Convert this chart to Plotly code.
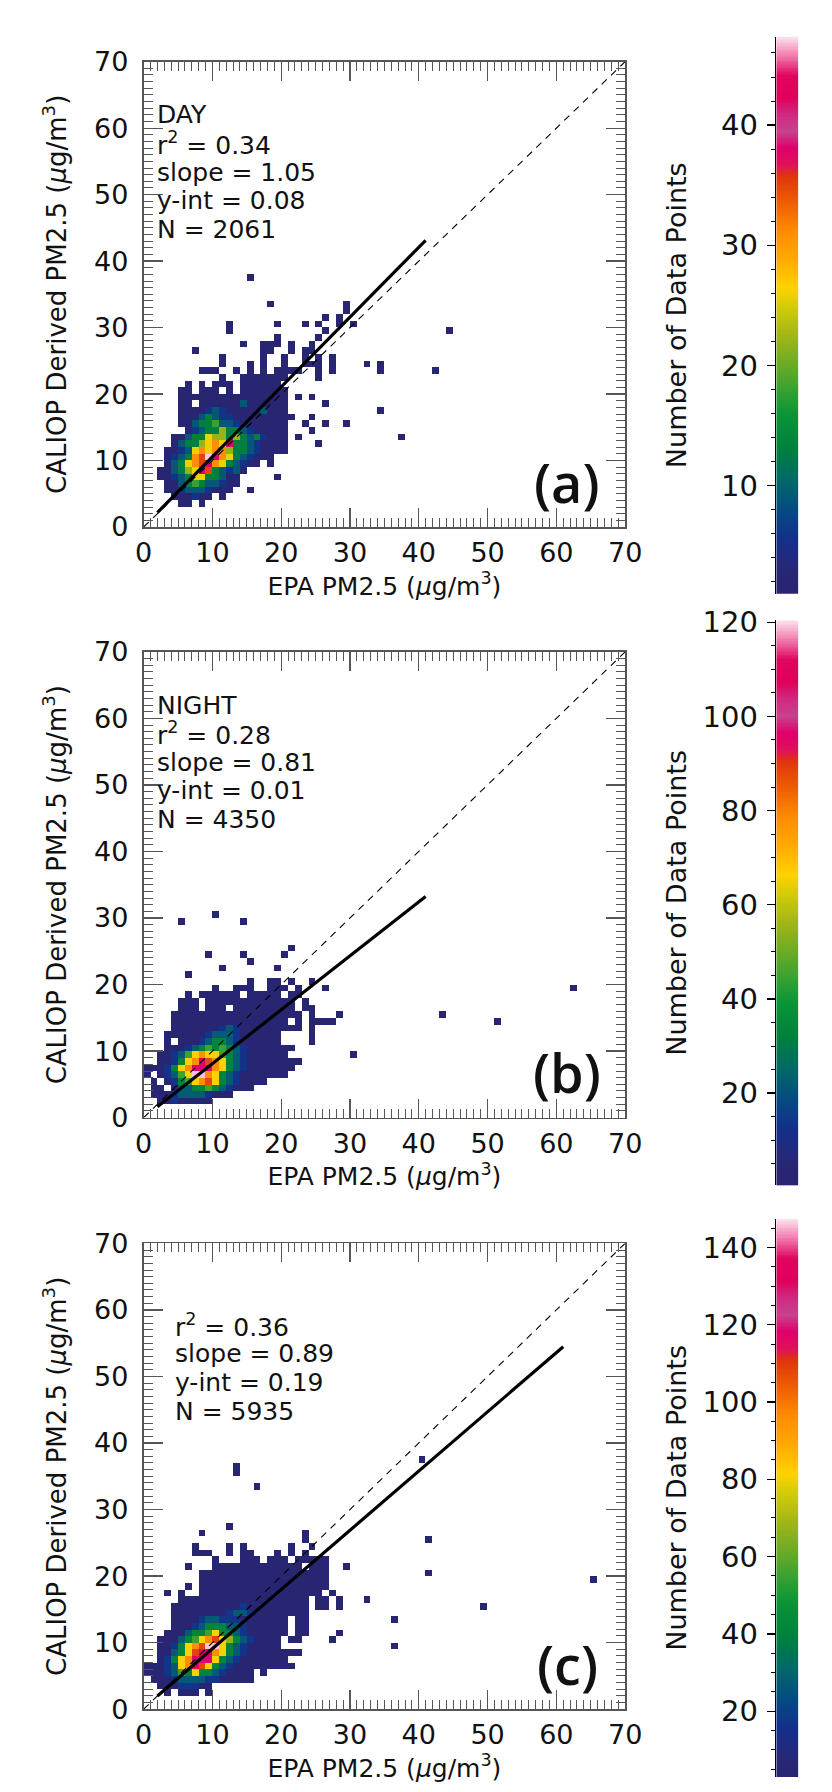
import plotly.graph_objects as go

# ---------------- data ----------------
SEASON = ["DAY", "NIGHT", ""]
PANEL_TAG = ["(a)", "(b)", "(c)"]
R2 = ["0.34", "0.28", "0.36"]
SLOPE = [1.05, 0.81, 0.89]
INTERCEPT = [0.08, 0.01, 0.19]
N_POINTS = [2061, 4350, 5935]
FIT_X = [(2, 41), (2, 41), (2, 61)]

CBAR_RANGE = [(1.0, 47.36), (0.4, 120.4), (1.0, 147.4)]
CBAR_VIEW = [(1.0, 47.36), (0.4, 120.4), (2.97, 147.4)]
CBAR_TICKS = [[10, 20, 30, 40], [20, 40, 60, 80, 100, 120], [20, 40, 60, 80, 100, 120, 140]]
CBAR_MINOR = [2, 5, 5]

# counts represented by each colour level in the 2-D histograms
COUNTS_A = {'1': 2, '2': 6, '3': 9, '4': 13, '5': 18, '6': 22, '7': 26, '8': 31, '9': 35, 'm': 38, 'w': 47}
COUNTS_B = {'1': 3, '2': 13, '3': 22, '4': 33, '5': 45, '6': 54, '7': 66, '8': 78, '9': 88, 'm': 96, 'w': 119}
COUNTS_C = {'1': 4, '2': 17, '3': 27, '4': 41, '5': 55, '6': 67, '7': 81, '8': 96, '9': 108, 'm': 118, 'w': 146}

# dense histogram rows: (y bin, first x bin, levels)  '.' = empty bin
ROWS_A = [
    (22, 11, "1..1111111"),
    (21, 6, "1.1.111.111111"),
    (20, 5, "11.111.1.1111111"),
    (19, 5, "1111111111111111.1.1"),
    (18, 5, "11.1111113111111.....1"),
    (17, 5, "1111232111113111"),
    (16, 5, "11134322111111111"),
    (15, 5, "1134453321111111"),
    (14, 6, "123446443211111"),
    (13, 4, "11344766464342111"),
    (12, 4, "13446787m44321111"),
    (11, 3, "112378788644321111"),
    (10, 3, "123489wm87432111"),
    (9, 3, "134789m8743211.1"),
    (8, 2, "113467m943231"),
    (7, 2, "112347744311"),
    (6, 3, "11345433211"),
    (5, 3, "1123332111"),
    (4, 4, "111211.1"),
    (3, 5, "11.1"),
]
SPARSE_A = [(15, 37), (18, 33), (29, 33), (29, 32), (26, 31), (28, 31), (12, 30), (19, 30), (23, 30),
            (25, 30), (28, 30), (30, 30), (12, 29), (26, 29), (44, 29), (19, 28), (25, 28), (14, 27),
            (17, 27), (18, 27), (19, 27), (21, 27), (24, 27), (7, 26), (17, 26), (18, 26), (21, 26),
            (23, 26), (24, 26), (11, 25), (17, 25), (20, 25), (23, 25), (25, 25), (27, 25), (11, 24),
            (15, 24), (17, 24), (20, 24), (23, 24), (24, 24), (25, 24), (27, 24), (32, 24), (34, 24),
            (8, 23), (9, 23), (10, 23), (13, 23), (15, 23), (17, 23), (19, 23), (20, 23), (21, 23),
            (22, 23), (25, 23), (27, 23), (34, 23), (42, 23), (25, 22), (34, 17), (24, 16), (23, 15),
            (26, 15), (29, 15), (24, 14), (22, 13), (37, 13), (25, 12), (19, 7), (15, 5)]

ROWS_B = [
    (20, 15, "1..11.1..1"),
    (19, 10, "1..111..111.1"),
    (18, 6, "1.111111.11111.11"),
    (17, 5, "111.1111111111111.1"),
    (16, 5, "111.111.111111111.11"),
    (15, 4, "1111111111111111111.1"),
    (14, 4, "11111111111111111.1.1111"),
    (13, 4, "1111111232111111111.1"),
    (12, 3, "11111123332111111....1"),
    (11, 3, "1.111234432111111"),
    (10, 3, "1112345454321111111"),
    (9, 2, "1123578775432111111"),
    (8, 2, "112478m98743211111111"),
    (7, 0, "1112478mmm874321111111"),
    (6, 0, "1.12357ww874321111111"),
    (5, 1, "1.124578974321111"),
    (4, 1, "11.133445432111"),
    (3, 1, "111233332111"),
    (2, 2, "11211111"),
]
SPARSE_B = [(10, 30), (5, 29), (14, 29), (21, 25), (9, 24), (14, 24), (20, 24), (15, 23), (11, 22),
            (19, 22), (6, 21), (26, 19), (28, 15), (43, 15), (51, 14), (62, 19), (24, 11), (30, 9)]

ROWS_C = [
    (22, 10, "1...111.111.11111"),
    (21, 6, "1...1111111111111.111..1"),
    (20, 8, "1111111111111111111"),
    (19, 8, "1111111111111111111"),
    (18, 6, "1.1111111111111111111"),
    (17, 3, "1.1..111111111111111111.1"),
    (16, 5, "1111111111111111111.11.1"),
    (15, 4, "11111111112111111111.11.1"),
    (14, 4, "11111111233211111111"),
    (13, 4, "11112332221111111.11"),
    (12, 4, "11123444332111111.11"),
    (11, 3, "111344574432111111.11"),
    (10, 2, "111345789764321111.11"),
    (9, 2, "1124789ww743211111"),
    (8, 2, "113479mm8743211111111"),
    (7, 2, "12478mmm74321111111"),
    (6, 0, "1112378m97432111111111"),
    (5, 0, "1112354744321111.1"),
    (4, 1, "111233332211111"),
    (3, 2, "11122211"),
    (2, 3, "1.111.1"),
]
SPARSE_C = [(40, 37), (13, 36), (13, 35), (16, 33), (12, 27), (8, 26), (23, 26), (23, 25), (41, 25),
            (7, 24), (12, 24), (14, 24), (21, 24), (24, 24), (7, 23), (8, 23), (9, 23), (12, 23),
            (14, 23), (15, 23), (19, 23), (21, 23), (23, 23), (41, 20), (32, 16), (49, 15), (36, 13),
            (36, 9), (28, 11), (27, 10), (65, 19)]

HIST_ROWS = [ROWS_A, ROWS_B, ROWS_C]
HIST_SPARSE = [SPARSE_A, SPARSE_B, SPARSE_C]
HIST_COUNTS = [COUNTS_A, COUNTS_B, COUNTS_C]

# ---------------- style ----------------
W, H = 832, 1792
FONT = "DejaVu Sans"
TXT = '#111111'
COLORSCALE = [
    [0.00, '#2a2470'], [0.05, '#262878'], [0.10, '#13308a'], [0.15, '#054a82'],
    [0.20, '#03666a'], [0.26, '#00803e'], [0.32, '#099437'], [0.37, '#3ca232'],
    [0.43, '#7eae22'], [0.47, '#a8b814'], [0.51, '#cccb08'], [0.55, '#ffd200'],
    [0.60, '#ffab00'], [0.65, '#ff8c00'], [0.70, '#f06000'], [0.75, '#e03410'],
    [0.77, '#e0105a'], [0.80, '#e0006a'], [0.83, '#c8428e'], [0.86, '#d02a80'],
    [0.89, '#e0005c'], [0.93, '#e00560'], [0.96, '#ee6aa2'], [1.00, '#fde4ef'],
]
PLOT_L, PLOT_R = 139, 636
PLOT_TOP = [46.5, 647, 1249]
PLOT_BOT = [520, 1121, 1723]
CB_L, CB_R = 792, 815
CB_TOP = [21, 615, 1224]
CB_BOT = [588, 1190, 1792]
CB_TITLE_STANDOFF = [26, 8, 8]
TICKC = '#555555'
STAT_Y_HEADER = [62.0, 57.7, 53.4, 49.1, 44.8]
STAT_Y_PLAIN = [57.7, 53.4, 49.1, 44.8]


def xd(px):
    return px / W


def yd(px):
    return 1 - px / H


def build_grid(rows, sparse, counts):
    z = [[None] * 70 for _ in range(70)]
    for (yy, x0, s) in rows:
        for k, ch in enumerate(s):
            if ch != '.':
                z[yy][x0 + k] = counts[ch]
    for (xx, yy) in sparse:
        z[yy][xx] = counts['1']
    return z


fig = go.Figure()
centers = [i + 0.5 for i in range(70)]
layout = {}
annotations = []

for p in range(3):
    n = p + 1
    xa, ya = f"x{n}", f"y{n}"
    cmin, cmax = CBAR_RANGE[p]
    z = build_grid(HIST_ROWS[p], HIST_SPARSE[p], HIST_COUNTS[p])
    fig.add_trace(go.Heatmap(x=centers, y=centers, z=z, colorscale=COLORSCALE, zmin=cmin, zmax=cmax,
                             showscale=False, hoverinfo='skip', xaxis=xa, yaxis=ya))
    fig.add_trace(go.Scatter(x=[0, 70], y=[0, 70], mode='lines',
                             line=dict(color='black', width=1.1, dash='7px,6px'),
                             hoverinfo='skip', showlegend=False, xaxis=xa, yaxis=ya))
    fx = list(FIT_X[p])
    fy = [SLOPE[p] * v + INTERCEPT[p] for v in fx]
    fig.add_trace(go.Scatter(x=fx, y=fy, mode='lines', line=dict(color='black', width=3.2),
                             hoverinfo='skip', showlegend=False, xaxis=xa, yaxis=ya))

    common = dict(range=[0, 70], tick0=0, dtick=10, ticks='inside', ticklen=19, tickwidth=1.3,
                  tickcolor=TICKC, showline=True, linewidth=1.8, linecolor=TICKC, mirror='ticks',
                  minor=dict(tick0=0, dtick=1, ticks='inside', ticklen=9, tickwidth=1, tickcolor=TICKC),
                  showgrid=False, zeroline=False, fixedrange=True,
                  tickfont=dict(family=FONT, size=27, color=TXT))
    layout[f"xaxis{n}"] = dict(common, domain=[xd(PLOT_L), xd(PLOT_R)], anchor=ya, ticklabelstandoff=1,
                               title=dict(text="EPA PM2.5 (<i>μ</i>g/m<sup>3</sup>)",
                                          font=dict(family=FONT, size=25, color=TXT), standoff=8))
    layout[f"yaxis{n}"] = dict(common, domain=[yd(PLOT_BOT[p]), yd(PLOT_TOP[p])], anchor=xa,
                               ticklabelstandoff=8,
                               title=dict(text="CALIOP Derived PM2.5 (<i>μ</i>g/m<sup>3</sup>)",
                                          font=dict(family=FONT, size=26, color=TXT), standoff=20))

    # statistics text
    lines = []
    if SEASON[p]:
        lines.append(SEASON[p])
    lines += [f"r<sup>2</sup> = {R2[p]}", f"slope = {SLOPE[p]:.2f}", f"y-int = {INTERCEPT[p]:.2f}",
              f"N = {N_POINTS[p]}"]
    ys = STAT_Y_HEADER if SEASON[p] else STAT_Y_PLAIN
    tx = 1.6 if SEASON[p] else 4.3
    for t, yy in zip(lines, ys):
        annotations.append(dict(x=tx, y=yy, xref=xa, yref=ya, text=t, showarrow=False, xanchor='left',
                                yanchor='middle', font=dict(family=FONT, size=25, color=TXT)))
    annotations.append(dict(x=61.6, y=6.8, xref=xa, yref=ya, text=PANEL_TAG[p], showarrow=False,
                            xanchor='center', yanchor='middle',
                            font=dict(family="Open Sans", size=54, color=TXT, weight=600)))

    # colour bar strip
    m = p + 4
    cxa, cya = f"x{m}", f"y{m}"
    steps = 400
    cy = [cmin + (cmax - cmin) * k / (steps - 1) for k in range(steps)]
    fig.add_trace(go.Heatmap(x=[0.5], y=cy, z=[[v] for v in cy], colorscale=COLORSCALE, zmin=cmin,
                             zmax=cmax, showscale=False, hoverinfo='skip', xaxis=cxa, yaxis=cya))
    layout[f"xaxis{m}"] = dict(domain=[xd(CB_L), xd(CB_R)], range=[0, 1], anchor=cya, visible=False,
                               fixedrange=True)
    layout[f"yaxis{m}"] = dict(domain=[yd(CB_BOT[p]), yd(CB_TOP[p])], range=list(CBAR_VIEW[p]), anchor=cxa,
                               side='left', tickmode='array', tickvals=CBAR_TICKS[p], ticks='outside',
                               ticklen=8, tickwidth=1.3, tickcolor='black', showline=True, linewidth=1.5,
                               linecolor='black',
                               minor=dict(tick0=0, dtick=CBAR_MINOR[p], ticks='outside', ticklen=4,
                                          tickwidth=1, tickcolor='black'),
                               showgrid=False, zeroline=False, fixedrange=True, ticklabelstandoff=3,
                               tickfont=dict(family=FONT, size=29, color=TXT),
                               title=dict(text="Number of Data Points",
                                          font=dict(family=FONT, size=27, color=TXT),
                                          standoff=CB_TITLE_STANDOFF[p]))

fig.update_layout(width=W, height=H, margin=dict(l=0, r=0, t=0, b=0), paper_bgcolor='white',
                  plot_bgcolor='white', showlegend=False, annotations=annotations,
                  font=dict(family=FONT), **layout)
fig.write_html("out.html", config={'displayModeBar': False, 'staticPlot': True},
               post_script="document.body.style.margin='0';document.body.style.overflow='hidden';")
